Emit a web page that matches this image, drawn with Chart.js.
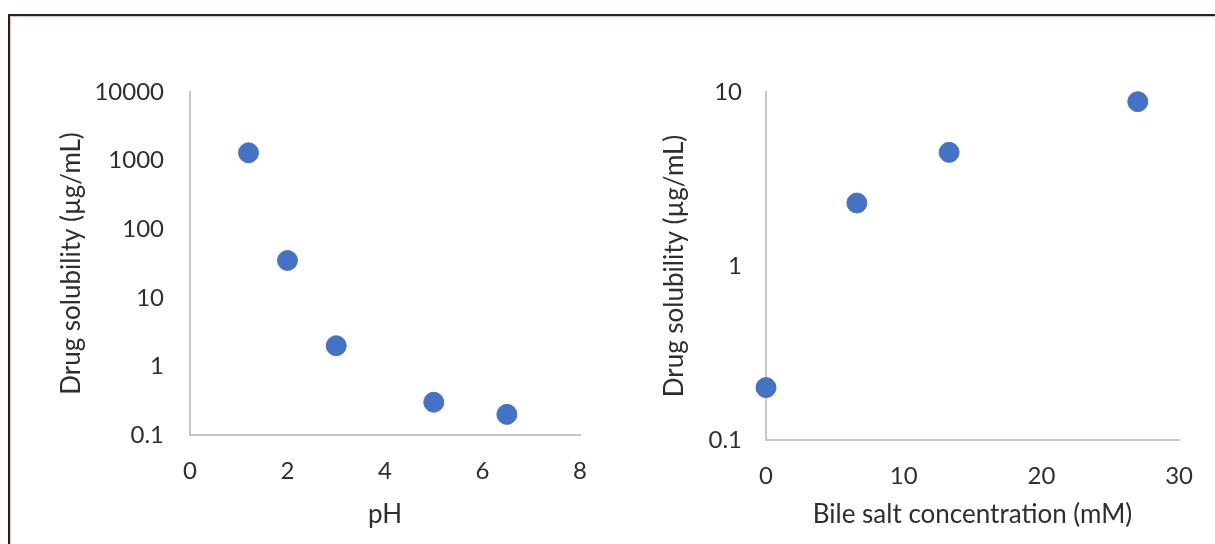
<!DOCTYPE html>
<html>
<head>
<meta charset="utf-8">
<script src="https://cdn.jsdelivr.net/npm/chart.js@4.4.1/dist/chart.umd.min.js"></script>
<style>
  html, body { margin: 0; padding: 0; background: #fff; }
  #stage { position: relative; width: 1215px; height: 544px; overflow: hidden; }
  #frame {
    position: absolute; left: 8px; top: 14px; width: 1220px; height: 540px;
    border-top: 2px solid #2a201e; border-left: 2px solid #2a201e;
    box-shadow: inset 1px 1px 0 #e9c2ae;
  }
  .box { position: absolute; top: 0; height: 544px; }
  #box-ph { left: 0; width: 610px; }
  #box-bile { left: 610px; width: 605px; }
</style>
</head>
<body>
<div id="stage">
  <div id="frame"></div>
  <div class="box" id="box-ph"><canvas id="ph-chart"></canvas></div>
  <div class="box" id="box-bile"><canvas id="bile-chart"></canvas></div>
</div>
<script>
// data
const phValues = [1.2, 2, 3, 5, 6.5];
const phSolubility = [1300, 35, 2, 0.3, 0.2];
const phYTicks = [0.1, 1, 10, 100, 1000, 10000];

const bileConc = [0, 6.6, 13.3, 27];
const bileSolubility = [0.2, 2.3, 4.5, 8.8];
const bileYTicks = [0.1, 1, 10];

const yTitle = 'Drug solubility (µg/mL)';
const textColor = '#2e2e2e';
const axisColor = '#c8c8c8';
const dotColor = '#4472C4';
const fontFamily = 'Lato, "Open Sans", sans-serif';

function makeScatter(canvasId, xs, ys, cfg) {
  const canvas = document.getElementById(canvasId);
  return new Chart(canvas.getContext('2d'), {
    type: 'scatter',
    data: {
      datasets: [{
        data: xs.map((x, i) => ({ x: x, y: ys[i] })),
        backgroundColor: dotColor,
        borderColor: dotColor,
        pointRadius: 10,
        pointHoverRadius: 10,
        clip: false
      }]
    },
    options: {
      responsive: true,
      maintainAspectRatio: false,
      animation: false,
      layout: { padding: cfg.padding },
      plugins: { legend: { display: false }, tooltip: { enabled: false } },
      scales: {
        x: {
          type: 'linear',
          min: cfg.xMin,
          max: cfg.xMax,
          grid: { display: false, drawTicks: false },
          border: { display: true, color: axisColor, width: 2 },
          ticks: {
            stepSize: cfg.xStep,
            padding: 22,
            color: textColor,
            font: { family: fontFamily, size: 24 }
          },
          title: {
            display: true,
            text: cfg.xTitle,
            color: textColor,
            padding: 0,
            font: { family: fontFamily, size: 26 }
          },
          afterFit: s => { s.height = cfg.xHeight; }
        },
        y: {
          type: 'logarithmic',
          min: cfg.yTicks[0],
          max: cfg.yTicks[cfg.yTicks.length - 1],
          grid: { display: false, drawTicks: false },
          border: { display: true, color: axisColor, width: 2 },
          afterBuildTicks: s => { s.ticks = cfg.yTicks.map(v => ({ value: v })); },
          ticks: {
            padding: cfg.yTickPad,
            color: textColor,
            font: { family: fontFamily, size: 24 },
            callback: v => String(v)
          },
          title: {
            display: true,
            text: yTitle,
            color: textColor,
            padding: 0,
            font: { family: fontFamily, size: 26 }
          },
          afterFit: s => { s.width = cfg.yWidth; }
        }
      }
    }
  });
}

makeScatter('ph-chart', phValues, phSolubility, {
  padding: { left: 56, top: 92, right: 30, bottom: 14 },
  xMin: 0, xMax: 8, xStep: 2, xTitle: 'pH', xHeight: 95,
  yTicks: phYTicks, yWidth: 134, yTickPad: 26
});

makeScatter('bile-chart', bileConc, bileSolubility, {
  padding: { left: 49, top: 92, right: 35, bottom: 14 },
  xMin: 0, xMax: 30, xStep: 10, xTitle: 'Bile salt concentration (mM)', xHeight: 90,
  yTicks: bileYTicks, yWidth: 107, yTickPad: 24
});
</script>
</body>
</html>
